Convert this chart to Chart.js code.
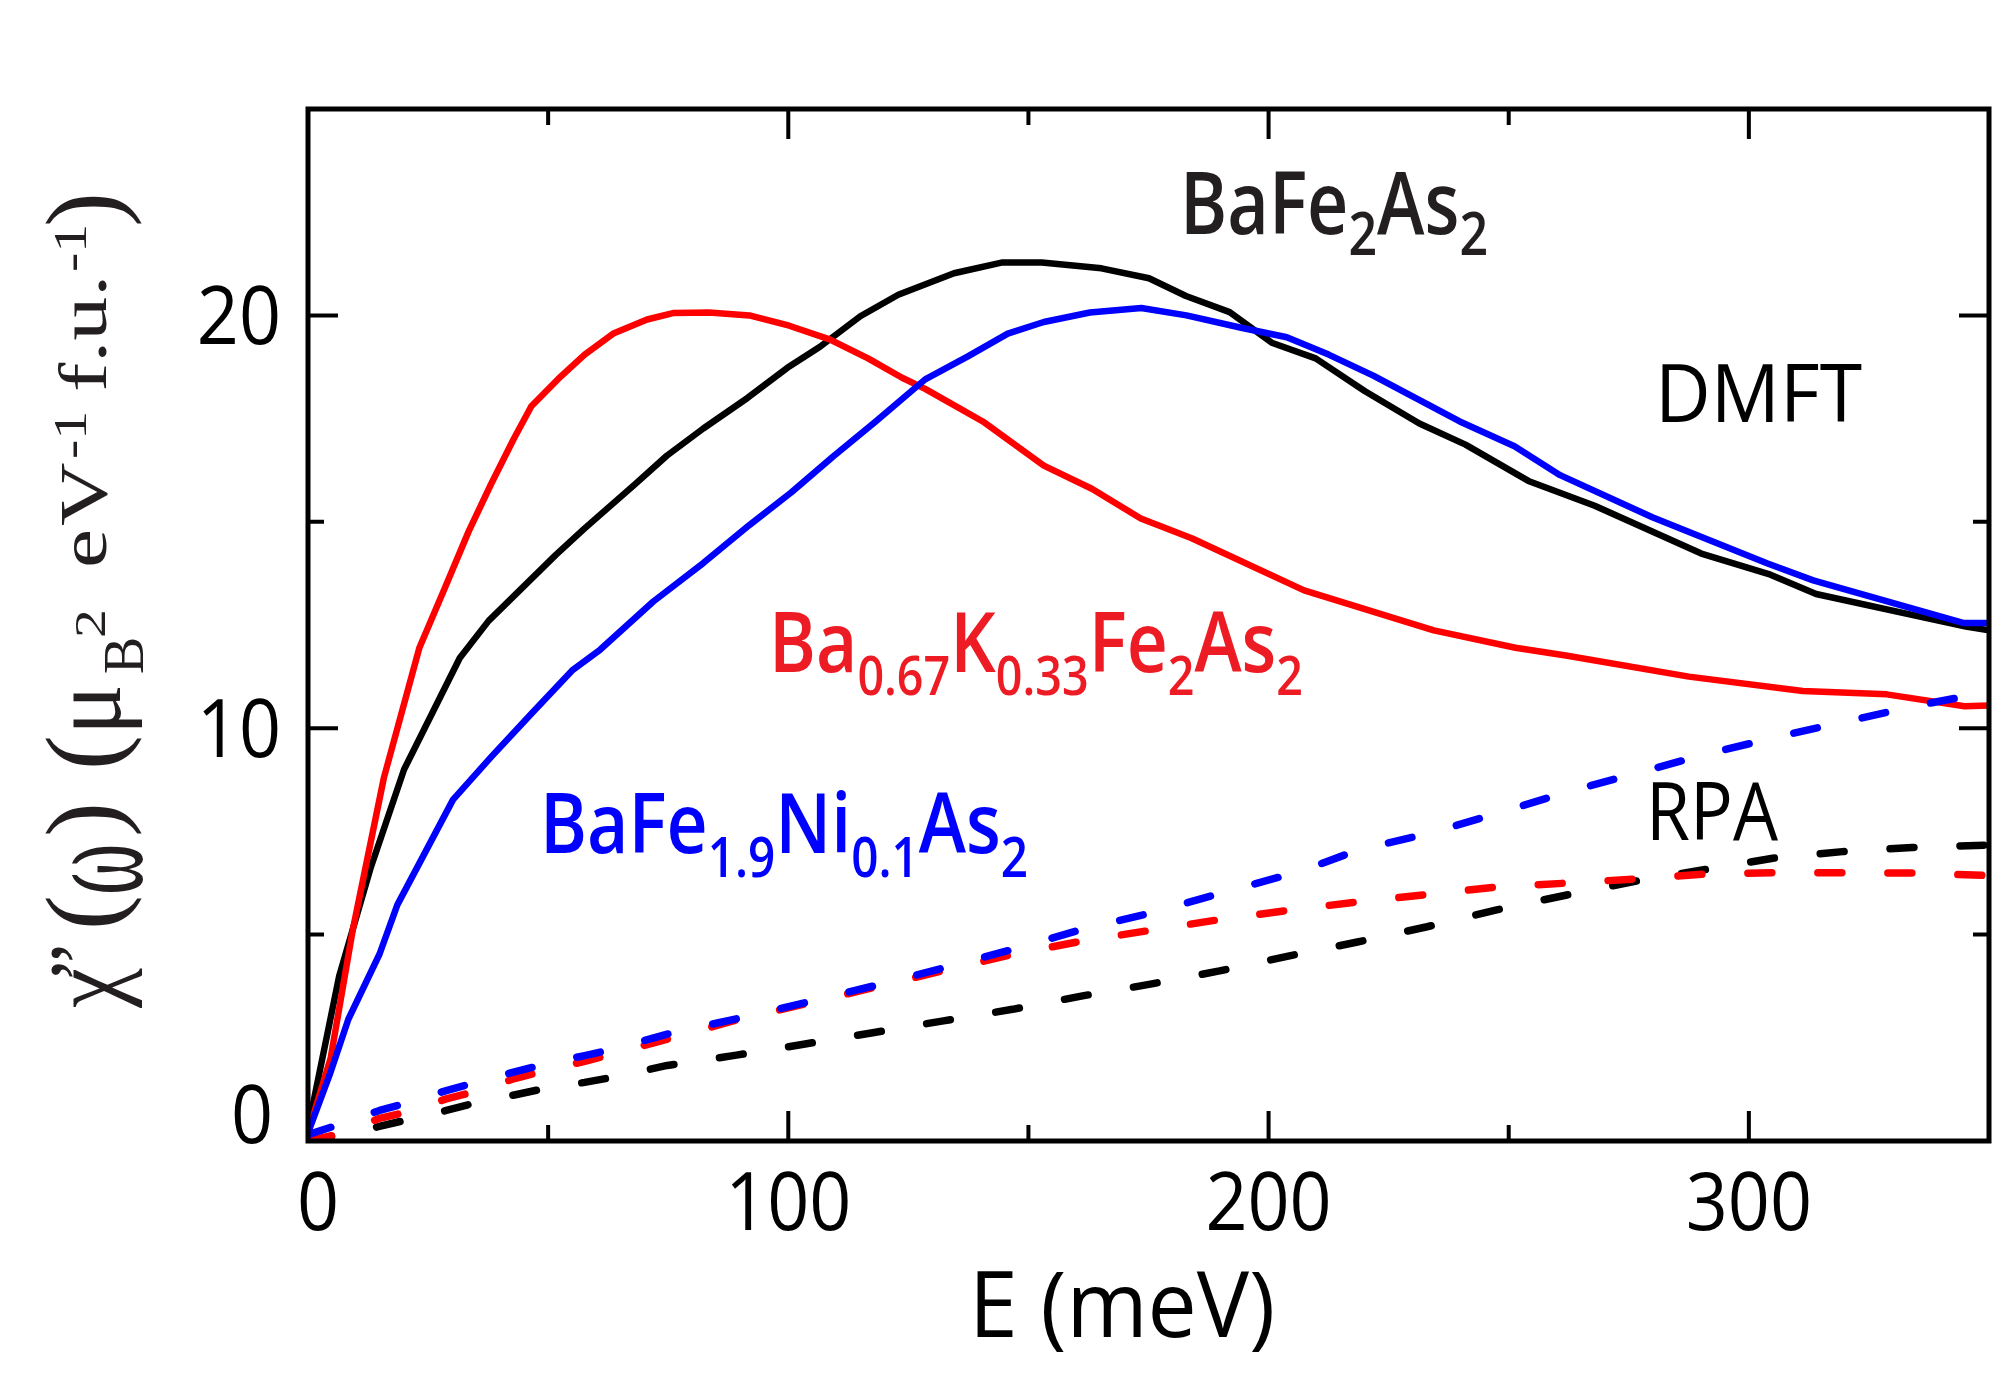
<!DOCTYPE html>
<html>
<head>
<meta charset="utf-8">
<script src="https://cdn.jsdelivr.net/npm/chart.js@4.4.1/dist/chart.umd.min.js"></script>
<style>
  html, body { margin: 0; padding: 0; background: #ffffff; }
  #wrap { width: 2003px; height: 1383px; position: relative; background: #ffffff; }
</style>
</head>
<body>
<div id="wrap"><canvas id="c" width="2003" height="1383"></canvas></div>
<script>
// ---------------- data ----------------
const xTicks = [0, 100, 200, 300];
const xMinorTicks = [50, 150, 250];
const yTicks = [0, 10, 20];
const yMinorTicks = [5, 15];
const xRange = [0, 350];
const yRange = [0, 25];

// DMFT, BaFe2As2 (black solid)
const eDmftBaFe2As2 = [0, 6.5, 13, 20, 31.6, 37.6, 44.6, 51.6, 57.6, 68, 74.7, 82.3, 91.5, 99.8, 106.6, 115, 122.9, 134.5, 144.4, 152.8, 165.2, 175.1, 182.8, 191.9, 200.8, 209.8, 220, 231.4, 241, 254.1, 267.9, 290.1, 304.5, 314, 345.2, 350];
const chiDmftBaFe2As2 = [0.3, 4.0, 6.6, 9.0, 11.7, 12.6, 13.4, 14.2, 14.84, 15.9, 16.6, 17.26, 18.0, 18.73, 19.24, 19.98, 20.5, 21.02, 21.28, 21.28, 21.14, 20.9, 20.47, 20.08, 19.33, 18.96, 18.17, 17.38, 16.87, 15.99, 15.39, 14.23, 13.72, 13.25, 12.46, 12.37];

// DMFT, Ba0.67K0.33Fe2As2 (red solid)
const eDmftBaK = [0, 4.7, 9.3, 15.8, 23.2, 28.8, 33.5, 38.1, 42.8, 46.5, 52.1, 57.6, 63.7, 70.6, 76.2, 83.5, 91.9, 100.2, 108.6, 116.6, 123.7, 128.5, 140.5, 153.2, 163.2, 173.4, 184, 207.4, 234.4, 251.4, 261.9, 287.5, 311.2, 328.7, 344.9, 350];
const chiDmftBaK = [0.2, 2.0, 5.1, 8.8, 11.95, 13.48, 14.78, 15.91, 17.0, 17.8, 18.46, 19.05, 19.57, 19.9, 20.06, 20.07, 20.0, 19.75, 19.42, 18.96, 18.49, 18.22, 17.43, 16.36, 15.8, 15.08, 14.6, 13.34, 12.37, 11.95, 11.76, 11.25, 10.9, 10.82, 10.53, 10.55];

// DMFT, BaFe1.9Ni0.1As2 (blue solid)
const eDmftBaNi = [0, 4.5, 8.4, 14.9, 18.6, 24.2, 30.2, 38.1, 46.5, 55, 60.8, 71.9, 82.3, 91.9, 100.6, 109.4, 118.2, 128.5, 137.3, 145.7, 153.2, 162.8, 173.5, 182.9, 194.3, 203.8, 212.5, 221.8, 239.8, 251.2, 260.7, 279.9, 303.9, 313.4, 344.6, 350];
const chiDmftBaNi = [0.2, 1.6, 2.95, 4.53, 5.72, 6.95, 8.27, 9.3, 10.35, 11.4, 11.9, 13.07, 14.0, 14.92, 15.71, 16.59, 17.43, 18.45, 19.0, 19.56, 19.84, 20.07, 20.18, 20.0, 19.7, 19.47, 19.05, 18.54, 17.43, 16.83, 16.13, 15.11, 13.99, 13.58, 12.55, 12.55];

// RPA, BaFe2As2 (black dashed)
const eRpaBaFe2As2 = [0, 6.5, 14.4, 20.5, 28.8, 34.4, 43.2, 48.8, 57.6, 63.7, 74.8, 89.2, 103.5, 117.9, 132.3, 146.7, 161, 175.4, 189.8, 204.1, 218.5, 233, 247.5, 262.1, 276.6, 290.6, 305, 319.5, 334, 350];
const chiRpaBaFe2As2 = [0.0, 0.15, 0.34, 0.51, 0.74, 0.91, 1.12, 1.26, 1.42, 1.55, 1.83, 2.08, 2.35, 2.63, 2.91, 3.19, 3.51, 3.8, 4.12, 4.48, 4.82, 5.19, 5.6, 5.96, 6.3, 6.57, 6.85, 7.01, 7.11, 7.17];

// RPA, Ba0.67K0.33Fe2As2 (red dashed)
const eRpaBaK = [0, 6.5, 14.9, 20.5, 28.8, 34.9, 43.2, 49.3, 57.6, 72, 89.2, 103.5, 117.9, 132.3, 146.7, 161, 176.3, 190.7, 205, 219.1, 233.7, 248.1, 262.6, 276.7, 291.2, 305.6, 320.1, 334.6, 350];
const chiRpaBaK = [0.0, 0.17, 0.55, 0.7, 1.02, 1.2, 1.52, 1.7, 1.93, 2.38, 2.93, 3.32, 3.72, 4.13, 4.52, 4.84, 5.12, 5.38, 5.6, 5.8, 5.98, 6.16, 6.25, 6.35, 6.47, 6.5, 6.5, 6.49, 6.43];

// RPA, BaFe1.9Ni0.1As2 (blue dashed)
const eRpaBaNi = [0, 6.5, 14.9, 20.5, 28.8, 34.9, 43.2, 49.3, 57.6, 64.1, 74.8, 89.2, 103.5, 117.9, 132.3, 146.7, 161, 175.4, 190, 206.5, 218.7, 233.7, 247.7, 262.6, 276.7, 290.7, 305.6, 320.1, 334.6, 350];
const chiRpaBaNi = [0.15, 0.4, 0.74, 0.92, 1.22, 1.42, 1.68, 1.86, 2.07, 2.24, 2.59, 2.96, 3.35, 3.76, 4.19, 4.64, 5.12, 5.52, 6.0, 6.53, 7.05, 7.46, 7.94, 8.47, 8.91, 9.36, 9.78, 10.16, 10.54, 10.88];

// ---------------- styling ----------------
const RED = '#ff0000', BLUE = '#0000ff', BLACK = '#000000';
const SANS = '"Open Sans", "Noto Sans", sans-serif';
const SERIF = '"Liberation Serif", "DejaVu Serif", serif';

function series(label, xs, ys, color, dashed) {
  return {
    label,
    data: xs.map((x, i) => ({ x: x, y: ys[i] })),
    borderColor: color,
    backgroundColor: color,
    borderWidth: dashed ? 7.5 : 6.5,
    borderDash: dashed ? [24, 46] : [],
    borderCapStyle: dashed ? 'round' : 'butt',
    borderJoinStyle: 'round',
    pointRadius: 0,
    pointHoverRadius: 0,
    tension: 0,
    fill: false
  };
}

// rich text with sub/superscripts
function richText(ctx, runs, o) {
  const fontOf = r => `${r.weight || o.weight || 400} ${r.size}px ${r.family || o.family}`;
  let natural = 0;
  for (const r of runs) {
    ctx.font = fontOf(r);
    r._w = ctx.measureText(r.t).width;
    natural += r._w + (r.gap || 0);
  }
  let sx = 1;
  if (o.width && o.mode === 'scale') sx = o.width / natural;
  ctx.save();
  ctx.translate(o.x, o.y);
  if (o.angle) ctx.rotate(o.angle);
  ctx.scale(sx, 1);
  ctx.fillStyle = o.color;
  ctx.textAlign = 'left';
  ctx.textBaseline = 'alphabetic';
  let cx = 0;
  for (const r of runs) {
    if (r.at !== undefined) cx = r.at; else cx += (r.gap || 0);
    ctx.font = fontOf(r);
    ctx.save();
    ctx.translate(cx, r.dy || 0);
    if (r.sy) ctx.scale(1, r.sy);
    ctx.fillText(r.t, 0, 0);
    ctx.restore();
    cx += r._w;
  }
  ctx.restore();
}

function plainText(ctx, text, x, y, font, color, align, sx) {
  ctx.save();
  ctx.translate(x, y);
  ctx.scale(sx || 1, 1);
  ctx.font = font;
  ctx.fillStyle = color;
  ctx.textAlign = align;
  ctx.textBaseline = 'alphabetic';
  ctx.fillText(text, 0, 0);
  ctx.restore();
}

const framePlugin = {
  id: 'frameAndText',
  afterDraw(chart) {
    const ctx = chart.ctx;
    const xs = chart.scales.x, ys = chart.scales.y;
    const a = chart.chartArea;
    ctx.save();
    // ticks (inward)
    ctx.strokeStyle = BLACK;
    ctx.lineWidth = 4;
    ctx.lineCap = 'butt';
    const major = 30, minor = 16;
    const vt = (v, len) => {
      const px = xs.getPixelForValue(v);
      ctx.beginPath();
      ctx.moveTo(px, a.bottom); ctx.lineTo(px, a.bottom - len);
      ctx.moveTo(px, a.top); ctx.lineTo(px, a.top + len);
      ctx.stroke();
    };
    const ht = (v, len) => {
      const py = ys.getPixelForValue(v);
      ctx.beginPath();
      ctx.moveTo(a.left, py); ctx.lineTo(a.left + len, py);
      ctx.moveTo(a.right, py); ctx.lineTo(a.right - len, py);
      ctx.stroke();
    };
    xTicks.filter(v => v > xRange[0]).forEach(v => vt(v, major));
    xMinorTicks.forEach(v => vt(v, minor));
    yTicks.filter(v => v > yRange[0]).forEach(v => ht(v, major));
    yMinorTicks.forEach(v => ht(v, minor));
    // frame
    ctx.lineWidth = 5;
    ctx.strokeRect(a.left, a.top, a.right - a.left, a.bottom - a.top);
    ctx.restore();

    // tick labels
    const tickFont = `400 80px ${SANS}`;
    xTicks.forEach(v => {
      const px = xs.getPixelForValue(v) + (v === 0 ? 10 : 0);
      plainText(ctx, String(v), px, a.bottom + 89, tickFont, BLACK, 'center', 0.92);
    });
    yTicks.forEach(v => {
      const py = ys.getPixelForValue(v);
      if (v === 0) plainText(ctx, String(v), a.left - 35, py + 2, tickFont, BLACK, 'right', 0.92);
      else plainText(ctx, String(v), a.left - 27, py + 28.5, tickFont, BLACK, 'right', 0.92);
    });

    // axis titles
    richText(ctx, [{ t: 'E (meV)', size: 92 }], { x: 969, y: 1337, color: BLACK, family: SANS, mode: 'scale', width: 306 });
    richText(ctx, [
      { t: 'χ', size: 90, sy: 1.13, dy: 14, at: 0 },
      { t: '”', size: 82, at: 28 },
      { t: '(', size: 105, dy: 13, at: 78 },
      { t: 'ω', size: 78, sy: 1.9, dy: 36, at: 113 },
      { t: ')', size: 105, dy: 13, at: 171 },
      { t: '(', size: 105, dy: 13, at: 238 },
      { t: 'μ', size: 95, sy: 1.07, dy: 14, at: 273 },
      { t: 'B', size: 56, dy: 37, at: 334 },
      { t: '2', size: 58, sy: 0.78, dy: -1, at: 370 },
      { t: 'e', size: 88, sy: 0.78, at: 440 },
      { t: 'V', size: 88, sy: 0.78, at: 482 },
      { t: '-1', size: 58, sy: 0.8, dy: -20, at: 549 },
      { t: 'f.u.', size: 88, sy: 0.78, at: 616 },
      { t: '-1', size: 58, sy: 0.8, dy: -20, at: 736 },
      { t: ')', size: 105, dy: 13, at: 781 }
    ], { x: 106, y: 1008, angle: -Math.PI / 2, color: '#231f20', family: SERIF });

    // annotations
    richText(ctx, [
      { t: 'BaFe', size: 86 }, { t: '2', size: 60, dy: 21 }, { t: 'As', size: 86 }, { t: '2', size: 60, dy: 21 }
    ], { x: 1180, y: 234, color: '#231f20', family: SANS, weight: 600, mode: 'scale', width: 308 });
    richText(ctx, [
      { t: 'Ba', size: 84 }, { t: '0.67', size: 55, dy: 23 }, { t: 'K', size: 84 }, { t: '0.33', size: 55, dy: 23 },
      { t: 'Fe', size: 84 }, { t: '2', size: 55, dy: 23 }, { t: 'As', size: 84 }, { t: '2', size: 55, dy: 23 }
    ], { x: 769, y: 672, color: '#ed1c24', family: SANS, weight: 600, mode: 'scale', width: 534 });
    richText(ctx, [
      { t: 'BaFe', size: 84 }, { t: '1.9', size: 56, dy: 24 }, { t: 'Ni', size: 84 }, { t: '0.1', size: 56, dy: 24 },
      { t: 'As', size: 84 }, { t: '2', size: 56, dy: 24 }
    ], { x: 540, y: 853, color: BLUE, family: SANS, weight: 600, mode: 'scale', width: 488 });
    richText(ctx, [{ t: 'DMFT', size: 81 }], { x: 1655, y: 422, color: BLACK, family: SANS, mode: 'scale', width: 207 });
    richText(ctx, [{ t: 'RPA', size: 81 }], { x: 1646, y: 840, color: BLACK, family: SANS, mode: 'scale', width: 132 });
  }
};

const chart = new Chart(document.getElementById('c'), {
  type: 'line',
  data: {
    datasets: [
      series('RPA BaFe1.9Ni0.1As2', eRpaBaNi, chiRpaBaNi, BLUE, true),
      series('RPA Ba0.67K0.33Fe2As2', eRpaBaK, chiRpaBaK, RED, true),
      series('RPA BaFe2As2', eRpaBaFe2As2, chiRpaBaFe2As2, BLACK, true),
      series('DMFT BaFe1.9Ni0.1As2', eDmftBaNi, chiDmftBaNi, BLUE, false),
      series('DMFT Ba0.67K0.33Fe2As2', eDmftBaK, chiDmftBaK, RED, false),
      series('DMFT BaFe2As2', eDmftBaFe2As2, chiDmftBaFe2As2, BLACK, false)
    ]
  },
  options: {
    responsive: false,
    animation: false,
    devicePixelRatio: 1,
    events: [],
    layout: { padding: { left: 308, right: 14, top: 109, bottom: 242 } },
    plugins: { legend: { display: false }, tooltip: { enabled: false } },
    scales: {
      x: { type: 'linear', min: xRange[0], max: xRange[1], display: false },
      y: { type: 'linear', min: yRange[0], max: yRange[1], display: false }
    }
  },
  plugins: [framePlugin]
});
</script>
</body>
</html>
